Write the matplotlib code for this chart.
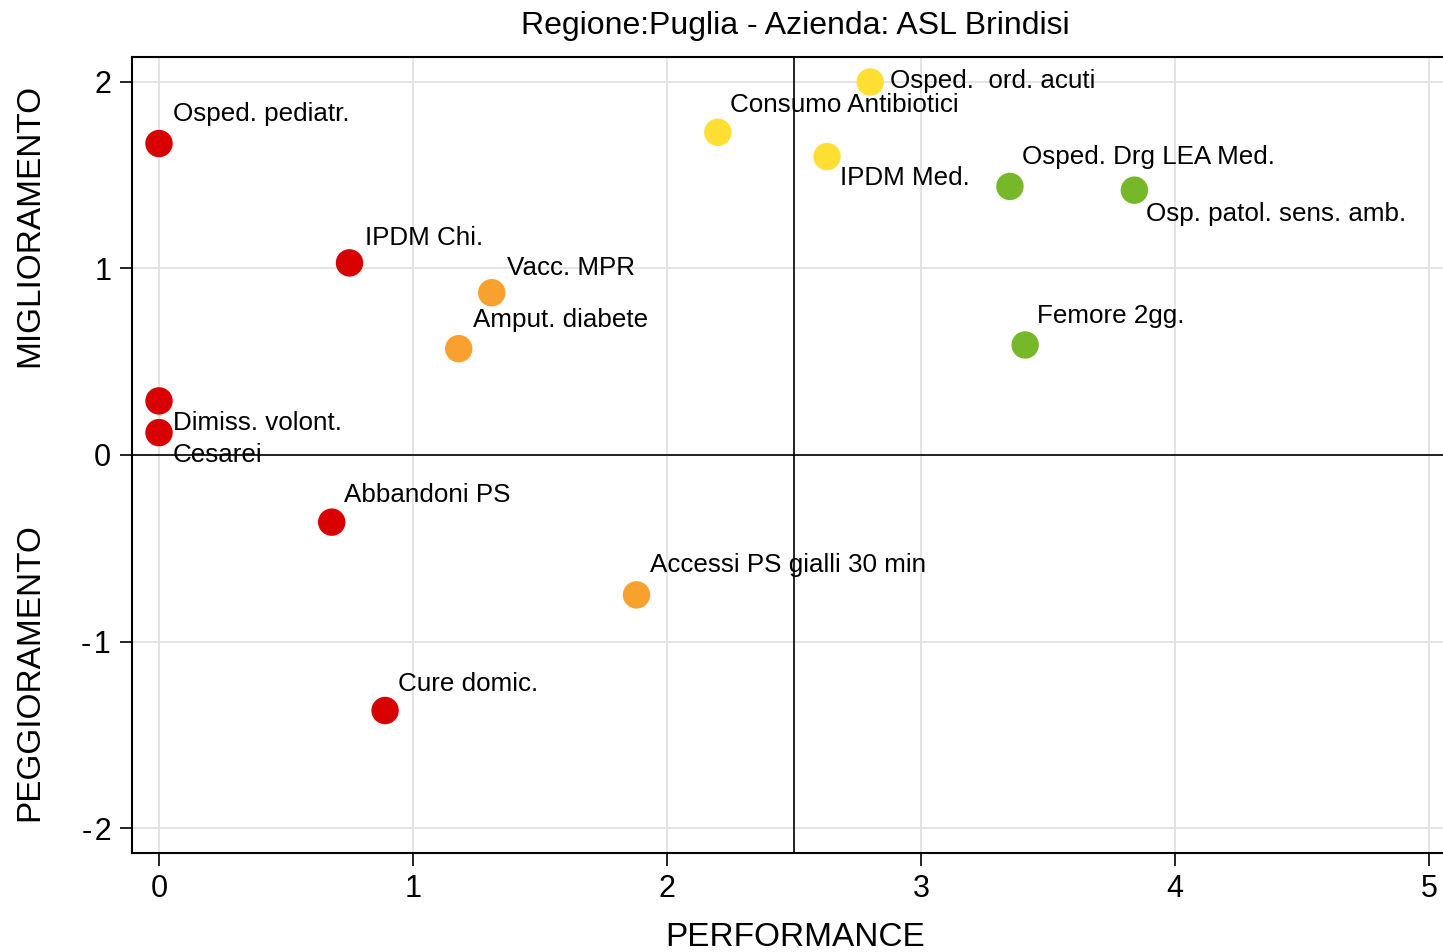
import matplotlib
matplotlib.use("Agg")
import matplotlib.pyplot as plt

plt.rcParams['font.family'] = ['Liberation Sans', 'DejaVu Sans']

labels = ["Osped. pediatr.", "IPDM Chi.", "Dimiss. volont.", "Cesarei", "Abbandoni PS",
          "Cure domic.", "Vacc. MPR", "Amput. diabete", "Accessi PS gialli 30 min",
          "Consumo Antibiotici", "Osped.  ord. acuti", "IPDM Med.", "Osped. Drg LEA Med.",
          "Osp. patol. sens. amb.", "Femore 2gg."]
performance = [0.0, 0.75, 0.0, 0.0, 0.68, 0.89, 1.31, 1.18, 1.88, 2.20, 2.80, 2.63, 3.35, 3.84, 3.41]
trend = [1.67, 1.03, 0.29, 0.12, -0.36, -1.37, 0.87, 0.57, -0.75, 1.73, 2.0, 1.60, 1.44, 1.42, 0.59]
group = ["red", "red", "red", "red", "red", "red", "orange", "orange", "orange",
         "yellow", "yellow", "yellow", "green", "green", "green"]
# label placement: (dx px, dy px) relative to point, positive dy = up
offsets = [(14, 30), (15, 25), (14, -22), (14, -22), (12, 27), (13, 27), (15, 25), (14, 29),
           (13, 30), (12, 27), (20, 1), (13, -21), (12, 29), (12, -24), (12, 29)]

palette = {"red": "#D80000", "orange": "#F9A12E", "yellow": "#FFDF33", "green": "#76B82A"}
xticks = [0, 1, 2, 3, 4, 5]
yticks = [-2, -1, 0, 1, 2]

fig = plt.figure(figsize=(14.43, 9.52), dpi=100)
ax = fig.add_axes([132/1443, 1-853/952, (1443-132)/1443, (853-57)/952])
ax.set_xlim(-0.1063, 5.055)
ax.set_ylim(-2.134, 2.134)

for t in xticks:
    ax.axvline(t, color="#E2E2E2", lw=1.3, zorder=0)
for t in yticks:
    ax.axhline(t, color="#E2E2E2", lw=1.3, zorder=0)
ax.axvline(2.5, color="black", lw=1.2, zorder=1)
ax.axhline(0, color="black", lw=1.2, zorder=1)

ax.scatter(performance, trend, s=390, c=[palette[g] for g in group], zorder=3, linewidths=0)

for lab, x, y, (dx, dy) in zip(labels, performance, trend, offsets):
    ax.annotate(lab, (x, y), xytext=(dx * 0.72, dy * 0.72), textcoords="offset points",
                ha="left", va="center", fontsize=18.7, zorder=4)

ax.set_xticks(xticks)
ax.set_yticks(yticks)
ax.set_xticklabels([str(t) for t in xticks])
ax.set_yticklabels([str(t).replace("-", "-\u200a") for t in yticks])
ax.tick_params(axis="both", labelsize=22, length=9, width=1.2, pad=6)
for s in ["left", "bottom", "top"]:
    ax.spines[s].set_linewidth(1.5)
ax.spines["right"].set_visible(False)

fig.text(795/1443, 1-26/952, "Regione:Puglia - Azienda: ASL Brindisi", ha="center", va="center", fontsize=23)
fig.text(795/1443, 1-937/952, "PERFORMANCE", ha="center", va="center", fontsize=24)
fig.text(30/1443, 1-225/952, "MIGLIORAMENTO", ha="center", va="center", rotation=90, fontsize=24)
fig.text(30/1443, 1-672/952, "PEGGIORAMENTO", ha="center", va="center", rotation=90, fontsize=24)

fig.savefig("out.png", dpi=100)
